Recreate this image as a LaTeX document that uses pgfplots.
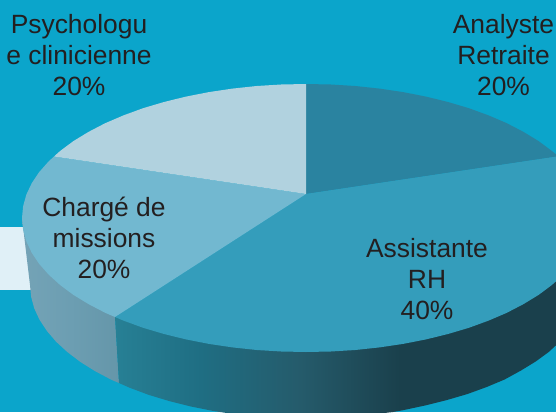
\documentclass[border=0pt]{standalone}
\usepackage{fontspec}
\setmainfont{Liberation Sans}
\usepackage{pgfplots}
\pgfplotsset{compat=1.18}
\definecolor{bgc}{HTML}{0BA5CB}
\definecolor{rectc}{HTML}{E0F0F7}
\definecolor{ana}{HTML}{2A83A0}
\definecolor{ass}{HTML}{349DBB}
\definecolor{cha}{HTML}{72B8D0}
\definecolor{psy}{HTML}{B1D2DF}
\definecolor{txt}{HTML}{231F20}
\definecolor{f1}{HTML}{278095}
\definecolor{f2}{HTML}{1F6E83}
\definecolor{f3}{HTML}{255B6B}
\definecolor{f4}{HTML}{1A404C}
\definecolor{l1}{HTML}{74A3B6}
\definecolor{l2}{HTML}{6C9EB2}
\definecolor{l3}{HTML}{6596A9}
\pgfdeclarehorizontalshading{frontshade}{100bp}{
 color(0bp)=(f1); color(25bp)=(f1); color(34bp)=(f2); color(44.5bp)=(f3); color(55bp)=(f4); color(100bp)=(f4)}
\pgfdeclarehorizontalshading{leftshade}{100bp}{
 color(0bp)=(l1); color(25bp)=(l1); color(50bp)=(l2); color(75bp)=(l3); color(100bp)=(l3)}
\tikzset{lab/.style={font=\fontsize{26.4}{31}\selectfont,text=txt,align=center,inner sep=0pt}}
\begin{document}
\begin{tikzpicture}
\begin{axis}[scale only axis,width=556pt,height=412pt,xmin=0,xmax=556,ymin=0,ymax=412,y dir=reverse,
  axis lines=none,clip=true]
\addplot[draw=none,fill=bgc] coordinates {(0,0)(556,0)(556,412)(0,412)} --cycle;
\addplot[draw=none,fill=rectc] coordinates {(0,227)(40,227)(40,290)(0,290)} --cycle;
% left side wall
\addplot[draw=none,shade,shading=leftshade] coordinates {(22,218)(115,317)(119,383)(111.4,379.8)(95,371.1)(80.3,361.9)(67.3,352)(56,341.6)(46.8,330.8)(39.5,319.7)(34.2,308.3)(31.1,296.7)(30,285)} --cycle;
% front side wall
\addplot[draw=none,shade,shading=frontshade] coordinates {(115,317)(590,218)(569.2,330.8)(560,341.6)(548.7,352)(535.7,361.5)(521,370.5)(504.6,379.5)(486.7,387)(467.5,394)(447,400)(425.5,405.4)(403.1,410.2)(393,412)(379.9,413.5)(356.3,416)(332.2,418)(308,419)(283.8,418.5)(259.7,417)(236.1,414.4)(212.9,410.9)(190.5,406.4)(169,401)(148.5,394.8)(129.3,387.6)(119,383)} --cycle;
% Analyste
\addplot[draw=none,fill=ana] coordinates {(306,194)(306,84)(330.8,84.5)(355.3,86)(379.5,88.6)(403.1,92.1)(426,96.6)(448,102)(468.9,108.2)(488.6,115.4)(506.8,123.2)(523.5,131.9)(538.6,141.1)(551.9,151)(558.5,156.3)} --cycle;
% Assistante
\addplot[draw=none,fill=ass] coordinates {(306,194)(558.5,156.3)(563.4,161.4)(572.9,172.2)(580.3,183.3)(585.7,194.7)(588.9,206.3)(590,218)(588.9,229.7)(585.7,241.3)(580.3,252.7)(572.9,263.8)(563.4,274.6)(551.9,285)(538.6,294.9)(523.5,304.1)(506.8,312.8)(488.6,320.6)(468.9,327.8)(448,334)(426,339.4)(403.1,343.9)(379.5,347.4)(355.3,350)(330.8,351.5)(306,352)(281.2,351.5)(256.7,350)(232.5,347.4)(208.9,343.9)(186,339.4)(164,334)(143.1,327.8)(123.4,320.6)(115,317)} --cycle;
% Charge
\addplot[draw=none,fill=cha] coordinates {(306,194)(115,317)(105.2,312.8)(88.5,304.1)(73.4,294.9)(60.1,285)(48.6,274.6)(39.1,263.8)(31.7,252.7)(26.3,241.3)(23.1,229.7)(22,218)(23.1,206.3)(26.3,194.7)(31.7,183.3)(39.1,172.2)(48.6,161.4)(54,156.5)} --cycle;
% Psychologue
\addplot[draw=none,fill=psy] coordinates {(306,194)(54,156.5)(60.1,151)(73.4,141.1)(88.5,131.9)(105.2,123.2)(123.4,115.4)(143.1,108.2)(164,102)(186,96.6)(208.9,92.1)(232.5,88.6)(256.7,86)(281.2,84.5)(306,84)} --cycle;
\node[lab] at (axis cs:79,55) {Psychologu\\e clinicienne\\20\%};
\node[lab] at (axis cs:503.5,55) {Analyste\\Retraite\\20\%};
\node[lab] at (axis cs:104,238) {Chargé de\\missions\\20\%};
\node[lab] at (axis cs:427,279) {Assistante\\RH\\40\%};
\end{axis}
\end{tikzpicture}
\end{document}
